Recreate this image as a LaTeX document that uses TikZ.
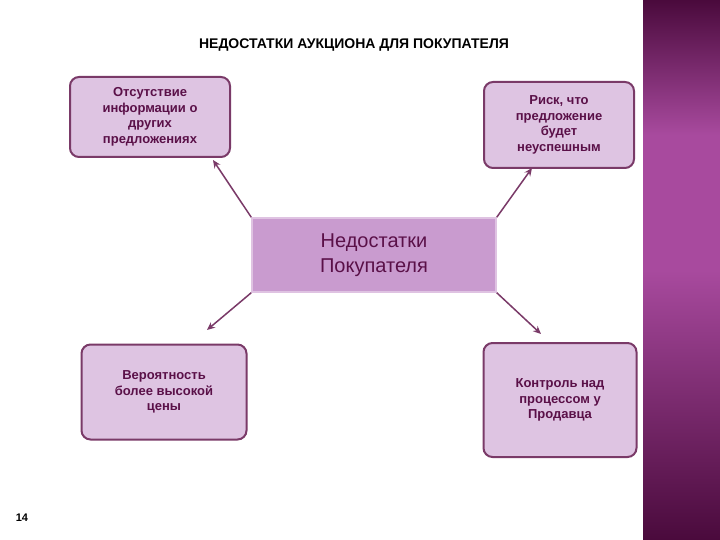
\documentclass[tikz,border=0pt]{standalone}
\usepackage{fontspec}
\usetikzlibrary{arrows.meta}
\setmainfont{Liberation Sans}
\begin{document}
\begin{tikzpicture}[x=1pt,y=-1pt,
 box/.style={draw=bord,line width=2pt,rounded corners=9pt,fill=boxf,text=txt,font=\bfseries\fontsize{13}{15.5}\selectfont,align=center,inner sep=2pt},
 arr/.style={draw=bord,line width=1.5pt,-{Stealth[length=8pt,width=7pt]}}]
\definecolor{bord}{HTML}{7A3A68}
\definecolor{boxf}{HTML}{DEC4E2}
\definecolor{txt}{HTML}{5A1048}
\definecolor{cen}{HTML}{C99BCF}
\definecolor{sdark}{HTML}{4A0A3C}
\definecolor{smid}{HTML}{A84A9E}
\useasboundingbox (0,0) rectangle (720,540);
\fill[white] (0,0) rectangle (720,540);
\shade[top color=sdark,bottom color=smid,middle color=smid] (643,0) rectangle (720,270);
\shade[top color=smid,bottom color=sdark] (643,270) rectangle (720,540);
\node[font=\bfseries\fontsize{14}{16}\selectfont] (t) at (354,45) {НЕДОСТАТКИ АУКЦИОНА ДЛЯ ПОКУПАТЕЛЯ};
\node[box,minimum width=160pt,minimum height=80pt] (a) at (150,117) {Отсутствие\\информации о\\других\\предложениях};
\node[box,minimum width=150pt,minimum height=86pt] (b) at (559,125) {Риск, что\\предложение\\будет\\неуспешным};
\node[box,minimum width=165pt,minimum height=95pt] (c) at (164,392) {Вероятность\\более высокой\\цены};
\node[box,minimum width=153pt,minimum height=114pt] (d) at (560,400) {Контроль над\\процессом у\\Продавца};
\node[draw=cen!60,line width=1.5pt,fill=cen,text=txt,font=\fontsize{20}{25}\selectfont,align=center,minimum width=244pt,minimum height=74pt] (m) at (374,255) {Недостатки\\Покупателя};
\coordinate (pa) at (213,160);
\coordinate (pb) at (532,168);
\coordinate (pc) at (207,330);
\coordinate (pd) at (541,334);
\draw[arr] (m.north west) -- (pa);
\draw[arr] (m.north east) -- (pb);
\draw[arr] (m.south west) -- (pc);
\draw[arr] (m.south east) -- (pd);
\node[font=\bfseries\fontsize{11}{13}\selectfont] (n) at (22,518) {14};
\end{tikzpicture}
\end{document}
